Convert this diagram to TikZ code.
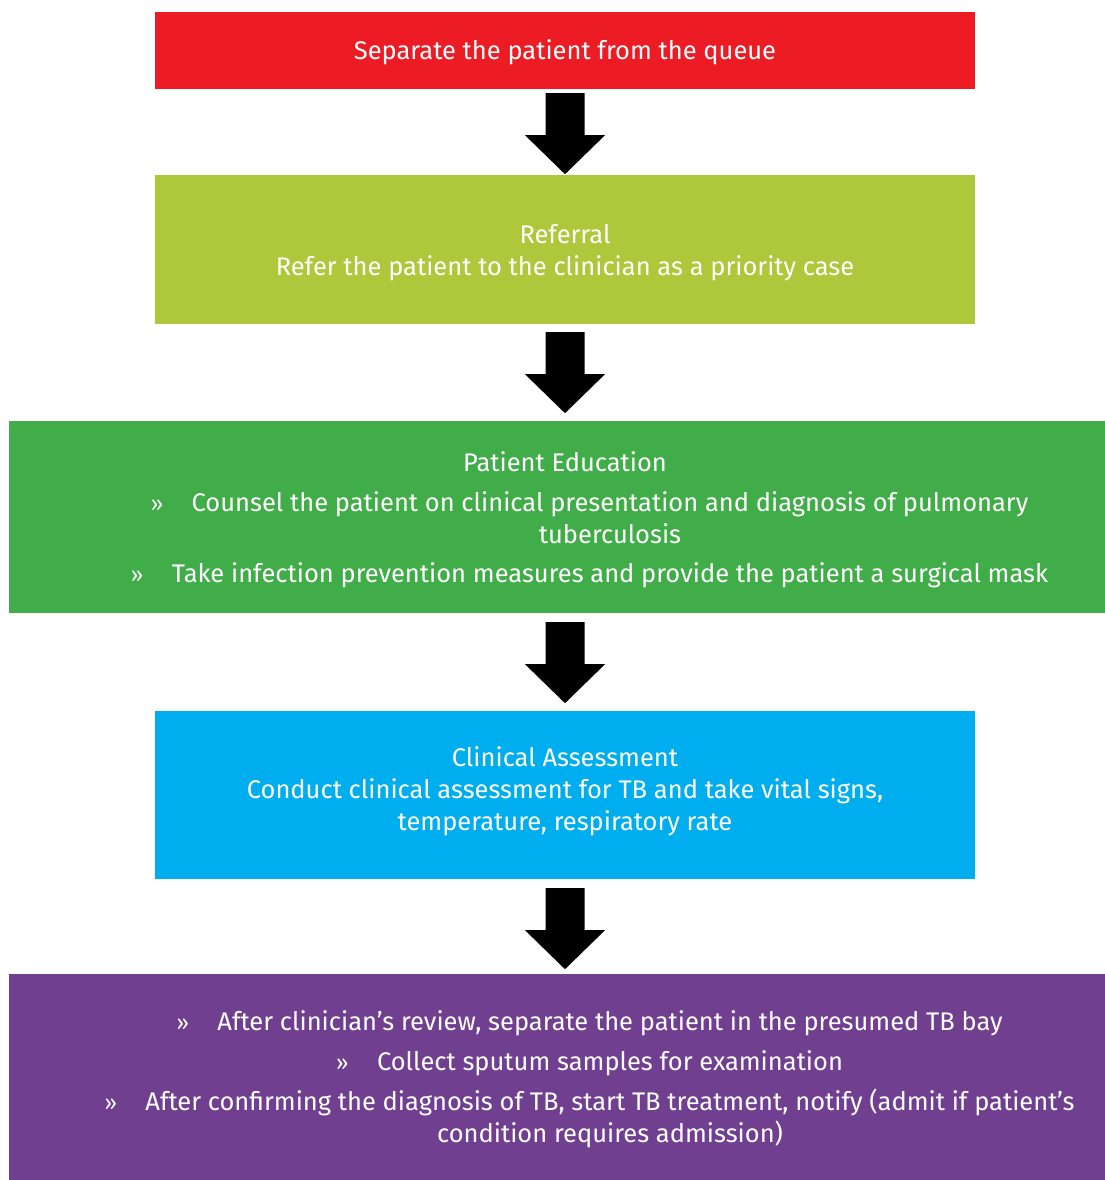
\documentclass[tikz,border=0pt]{standalone}
\usepackage{fontspec}
\setmainfont{Fira Sans}
\usetikzlibrary{calc}
\definecolor{cred}{HTML}{ED1C24}
\definecolor{clime}{HTML}{AFC73A}
\definecolor{cgreen}{HTML}{41AD49}
\definecolor{cblue}{HTML}{00AEEF}
\definecolor{cpurple}{HTML}{713F8F}
\tikzset{
  box/.style={rectangle, inner sep=0pt, draw=none},
  txt/.style={inner sep=0pt, anchor=base, text=white, font=\fontsize{25.5}{32}\selectfont},
  bul/.style={inner sep=0pt, anchor=base east, text=white, font=\fontsize{22}{30}\selectfont},
  blockarr/.style={fill=black, draw=none}
}
\newcommand{\myarrow}[1]{%
  \fill[blockarr] ($(#1)+(-19.5,0)$) -- ($(#1)+(19.5,0)$) -- ($(#1)+(19.5,42)$) -- ($(#1)+(40,42)$) -- ($(#1)+(0,81)$) -- ($(#1)+(-40,42)$) -- ($(#1)+(-19.5,42)$) -- cycle;}
\begin{document}
\begin{tikzpicture}[x=1pt,y=-1pt]
\useasboundingbox (0,0) rectangle (1105,1180);
\node[box, fill=cred, minimum width=820pt, minimum height=77pt] (b1) at (565,50.5) {};
\node[box, fill=clime, minimum width=820pt, minimum height=149pt] (b2) at (565,249.5) {};
\node[box, fill=cgreen, minimum width=1096pt, minimum height=192pt] (b3) at (557,517) {};
\node[box, fill=cblue, minimum width=820pt, minimum height=168pt] (b4) at (565,795) {};
\node[box, fill=cpurple, minimum width=1096pt, minimum height=206pt] (b5) at (557,1077) {};

\coordinate (a1) at ($(b1.south)+(0,4)$);
\coordinate (a2) at ($(b2.south)+(0,8)$);
\coordinate (a3) at ($(b3.south -| b4.north)+(0,9)$);
\coordinate (a4) at ($(b4.south)+(0,9)$);
\myarrow{a1}
\myarrow{a2}
\myarrow{a3}
\myarrow{a4}

\node[txt] (t1) at (565,60) {Separate the patient from the queue};

\node[txt] (t2) at (565,243) {Referral};
\node[txt] (t3) at (565,275) {Refer the patient to the clinician as a priority case};

\node[txt] (t4) at (565,471) {Patient Education};
\node[txt] (t5) at (610,511) {Counsel the patient on clinical presentation and diagnosis of pulmonary};
\node[bul] (u5) at ($(t5.base west)+(-28,0)$) {»};
\node[txt] (t6) at (610,543) {tuberculosis};
\node[txt] (t7) at (610,582) {Take infection prevention measures and provide the patient a surgical mask};
\node[bul] (u7) at ($(t7.base west)+(-28,0)$) {»};

\node[txt] (t8) at (565,766) {Clinical Assessment};
\node[txt] (t9) at (565,798) {Conduct clinical assessment for TB and take vital signs,};
\node[txt] (t10) at (565,830) {temperature, respiratory rate};

\node[txt] (t11) at (610,1030) {After clinician’s review, separate the patient in the presumed TB bay};
\node[bul] (u11) at ($(t11.base west)+(-28,0)$) {»};
\node[txt] (t12) at (610,1070) {Collect sputum samples for examination};
\node[bul] (u12) at ($(t12.base west)+(-28,0)$) {»};
\node[txt] (t13) at (610,1110) {After confirming the diagnosis of TB, start TB treatment, notify (admit if patient’s};
\node[bul] (u13) at ($(t13.base west)+(-28,0)$) {»};
\node[txt] (t14) at (610,1142) {condition requires admission)};
\end{tikzpicture}
\end{document}
